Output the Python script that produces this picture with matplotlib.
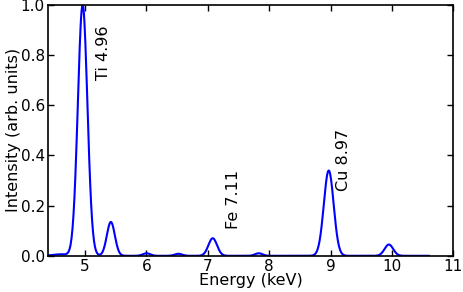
import numpy as np
import matplotlib
matplotlib.use('Agg')
import matplotlib.pyplot as plt

# peak positions (keV), heights and widths
peak_pos = [4.60, 4.96, 5.42, 6.00, 6.52, 7.08, 7.83, 8.97, 9.95]
peak_height = [0.006, 1.0, 0.135, 0.010, 0.008, 0.070, 0.010, 0.340, 0.045]
peak_sigma = [0.12, 0.078, 0.065, 0.06, 0.06, 0.07, 0.06, 0.08, 0.07]

labels = ['Ti 4.96', 'Fe 7.11', 'Cu 8.97']
label_x = [5.30, 7.42, 9.21]
label_y = [0.70, 0.107, 0.26]

energy = np.linspace(4.4, 10.6, 800)
intensity = np.zeros_like(energy)
for p, h, s in zip(peak_pos, peak_height, peak_sigma):
    intensity += h * np.exp(-0.5 * ((energy - p) / s) ** 2)

fig, ax = plt.subplots(figsize=(4.64, 2.92), dpi=100)
fig.subplots_adjust(left=0.104, right=0.977, top=0.983, bottom=0.124)

ax.plot(energy, intensity, color='blue', lw=1.5)

for t, x, y in zip(labels, label_x, label_y):
    ax.text(x, y, t, rotation=90, ha='center', va='bottom', fontsize=11.5)

ax.set_xlim(4.4, 11)
ax.set_ylim(0, 1.0)
ax.set_xticks([5, 6, 7, 8, 9, 10, 11])
ax.set_yticks([0.0, 0.2, 0.4, 0.6, 0.8, 1.0])
ax.tick_params(direction='in', top=True, right=True, labelsize=11, length=4, width=1, pad=2.5)
for s in ax.spines.values():
    s.set_linewidth(1.2)

ax.set_xlabel('Energy (keV)', fontsize=11.5, labelpad=-1)
ax.set_ylabel('Intensity (arb. units)', fontsize=11.5, labelpad=0)

plt.savefig('out.png')
